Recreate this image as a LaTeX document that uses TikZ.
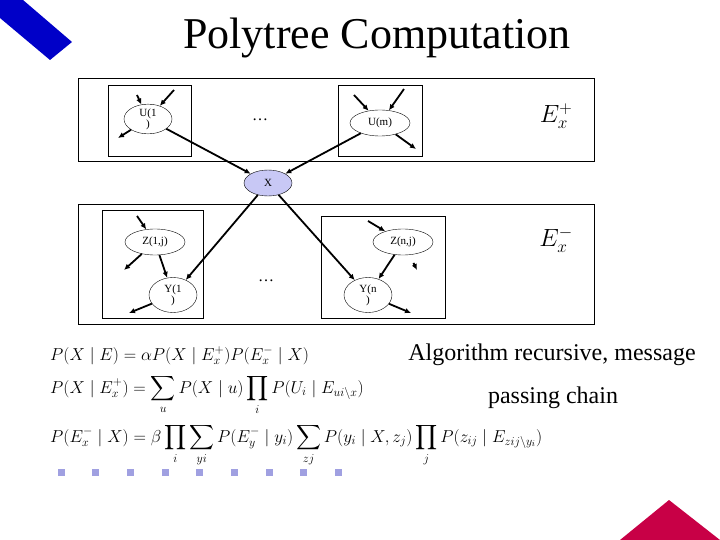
\documentclass[tikz,border=0pt]{standalone}
\usepackage{fontspec}
\setmainfont{Liberation Serif}
\usepackage{amsmath, amssymb}
\usetikzlibrary{shapes.geometric, arrows.meta}

\definecolor{barblue}{RGB}{0,0,200}
\definecolor{cornerred}{RGB}{200,0,70}
\definecolor{xfill}{RGB}{200,200,245}
\definecolor{bulletblue}{RGB}{160,160,225}

\begin{document}
\begin{tikzpicture}[x=1pt, y=-1pt,
    var/.style={draw, ellipse, inner sep=0pt, align=center,
        font=\fontsize{11}{11}\selectfont},
    msg/.style={-{Latex[length=6pt, width=5.5pt]}, line width=1.8pt},
    evbox/.style={draw, line width=0.8pt},
    formula/.style={anchor=base west, inner sep=0pt, font=\fontsize{17.3}{17.3}\selectfont}]
        \useasboundingbox (0,0) rectangle (720,540);

        % Corner decorations
        \fill[barblue] (0,0) -- (23,0) -- (72,42) -- (50,60) -- (0,18) -- cycle;
        \fill[cornerred] (620,540) -- (669,500) -- (720,540) -- cycle;

        % Title
        \node (title) at (377,38) {\fontsize{44}{44}\selectfont Polytree Computation};

        % Evidence boxes
        \draw[evbox] (78,78) rectangle (594,161);
        \draw[evbox] (78,204) rectangle (594,324);
        \draw[evbox] (108,85) rectangle (191,156);
        \draw[evbox] (338,85) rectangle (422,156);
        \draw[evbox] (102,210) rectangle (203,318);
        \draw[evbox] (321,216) rectangle (445,318);

        % Parents
        \node[var, minimum width=48pt, minimum height=27pt] (U1) at (148,119) {U(1\\)};
        \node[var, minimum width=60pt, minimum height=26pt] (Um) at (380,123) {U(m)};
        \node (dotsU) at (260,120) {\fontsize{16}{16}\selectfont\dots};
        \node (Eplus) at (556,116) {\fontsize{26}{26}\selectfont$E_x^+$};

        % Query node
        \node[var, fill=xfill, minimum width=48pt, minimum height=26pt] (X) at (268,183) {X};

        % Children
        \node[var, minimum width=60pt, minimum height=26pt] (Z1) at (155,242) {Z(1,j)};
        \node[var, minimum width=60pt, minimum height=26pt] (Zn) at (403,242) {Z(n,j)};
        \node[var, minimum width=48pt, minimum height=35pt] (Y1) at (173,295) {Y(1\\)};
        \node[var, minimum width=48pt, minimum height=35pt] (Yn) at (368,295) {Y(n\\)};
        \node (dotsY) at (266,281) {\fontsize{16}{16}\selectfont\dots};
        \node (Eminus) at (556,240) {\fontsize{26}{26}\selectfont$E_x^-$};

        % Free ends of the stub arrows
        \coordinate (a1) at (137,95);
        \coordinate (a2) at (174,90);
        \coordinate (a3) at (118,138);
        \coordinate (b1) at (354,95);
        \coordinate (b2) at (404,89);
        \coordinate (b3) at (416,149);
        \coordinate (c1) at (137,216);
        \coordinate (c2) at (124,270);
        \coordinate (c3) at (129,313);
        \coordinate (d1) at (368,221);
        \coordinate (d2) at (417,270);
        \coordinate (d3) at (411,313);

        % Messages
        \draw[msg] (U1) -- (X);
        \draw[msg] (Um) -- (X);
        \draw[msg] (X) -- (Y1);
        \draw[msg] (X) -- (Yn);
        \draw[msg] (Z1) -- (Y1);
        \draw[msg] (Zn) -- (Yn);

        \draw[msg] (a1) -- (U1);
        \draw[msg] (a2) -- (U1);
        \draw[msg] (U1) -- (a3);
        \draw[msg] (b1) -- (Um);
        \draw[msg] (b2) -- (Um);
        \draw[msg] (Um) -- (b3);
        \draw[msg] (c1) -- (Z1);
        \draw[msg] (Z1) -- (c2);
        \draw[msg] (Y1) -- (c3);
        \draw[msg] (d1) -- (Zn);
        \draw[msg, shorten <=9pt] (Zn) -- (d2);
        \draw[msg] (Yn) -- (d3);

        % Equations
        \node[formula] (eq1) at (50,360)
            {$P(X\mid E)=\alpha P(X\mid E_x^+)P(E_x^-\mid X)$};
        \node[formula] (eq2) at (50,393)
            {$\displaystyle P(X\mid E_x^+)=\sum_u P(X\mid u)\prod_i P(U_i\mid E_{ui\setminus x})$};
        \node[formula] (eq3) at (50,442)
            {$\displaystyle P(E_x^-\mid X)=\beta\prod_i\sum_{yi}P(E_y^-\mid y_i)\sum_{zj}P(y_i\mid X,z_j)\prod_j P(z_{ij}\mid E_{zij\setminus y_i})$};

        % Remark
        \node (remark1) at (552,355) {\fontsize{24}{24}\selectfont Algorithm recursive, message};
        \node (remark2) at (553,398) {\fontsize{24}{24}\selectfont passing chain};

        % Bullets
        \foreach \i in {0,...,8}
            \fill[bulletblue] (61+34.7*\i-3.5,472-3.5) rectangle ++(7,7);
\end{tikzpicture}
\end{document}
